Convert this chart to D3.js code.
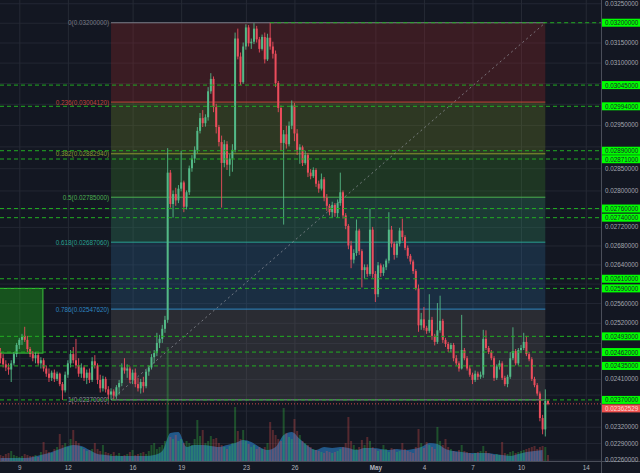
<!DOCTYPE html>
<html><head><meta charset="utf-8">
<script src="https://cdn.jsdelivr.net/npm/d3@7"></script>
<style>
html,body{margin:0;padding:0;background:#131722;}
svg{display:block;}
</style></head><body>
<svg id="chart" width="640" height="473"></svg>
<script>
// ---------- DATA (prices in units of 1e-5) ----------
const UNIT = 1e-5;
const firstCandle = Date.UTC(2018, 3, 7, 20);   // 4h candles
const candleHours = 4;

const openP = [
2462,2450,2438,2432,2428,2440,2458,2476,2486,2494,
2486,2468,2458,2450,2456,2440,2446,2430,2420,2412,
2422,2410,2420,2400,2388,2418,2440,2458,2446,2436,
2420,2432,2412,2422,2408,2444,2436,2408,2392,2410,
2390,2380,2386,2378,2394,2402,2432,2426,2430,2408,
2422,2400,2392,2404,2396,2424,2432,2452,2460,2480,
2488,2508,2526,2840,2770,2792,2778,2804,2818,2764,
2796,2850,2872,2892,2936,2966,2954,2968,3030,3060,
2992,2945,2910,2862,2905,2858,2872,2892,3160,3115,
3052,3140,3188,3148,3152,3185,3158,3134,3164,3108,
3162,3140,3122,3050,2990,2908,2928,2905,2948,2996,
2930,2892,2898,2862,2880,2840,2832,2846,2815,2804,
2825,2784,2766,2752,2768,2750,2772,2796,2745,2722,
2680,2650,2664,2712,2668,2628,2634,2620,2714,2620,
2578,2638,2622,2634,2648,2714,2684,2660,2684,2712,
2698,2675,2658,2646,2626,2590,2515,2527,2510,2504,
2526,2494,2482,2505,2524,2486,2478,2468,2476,2450,
2440,2430,2466,2450,2430,2418,2408,2420,2414,2418,
2488,2470,2462,2450,2412,2434,2440,2412,2400,2414,
2450,2464,2440,2466,2470,2482,2458,2448,2410,2398,
2382,2336,2315,2368];
const highP = [
2470,2458,2446,2440,2446,2462,2480,2490,2498,2512,
2494,2472,2464,2462,2460,2452,2450,2436,2430,2426,
2428,2424,2422,2404,2424,2446,2466,2472,2488,2450,
2440,2436,2428,2430,2452,2456,2440,2418,2416,2414,
2396,2392,2390,2398,2408,2440,2450,2438,2434,2428,
2430,2412,2410,2414,2428,2436,2458,2466,2500,2496,
2516,2534,2896,2846,2800,2806,2812,2890,2822,2800,
2856,2880,2900,2945,2978,2985,2975,3040,3074,3066,
3000,2950,2925,2915,2912,2882,2905,3175,3185,3125,
3150,3196,3194,3160,3199,3192,3164,3170,3175,3172,
3200,3152,3130,3055,2996,2938,2948,2958,3008,3002,
2940,2905,2902,2890,2885,2848,2852,2850,2822,2838,
2830,2792,2770,2775,2772,2780,2840,2800,2750,2726,
2690,2672,2736,2716,2672,2640,2640,2760,2720,2626,
2645,2642,2640,2652,2752,2722,2688,2690,2718,2738,
2702,2680,2662,2650,2630,2598,2540,2552,2514,2578,
2532,2498,2560,2575,2528,2490,2482,2480,2480,2456,
2444,2536,2470,2454,2436,2422,2426,2424,2424,2506,
2505,2474,2466,2454,2438,2446,2444,2416,2418,2462,
2511,2468,2470,2476,2500,2494,2462,2452,2414,2402,
2386,2342,2390,2370];
const lowP = [
2440,2432,2425,2418,2404,2436,2452,2468,2476,2482,
2462,2452,2444,2440,2436,2430,2424,2414,2404,2406,
2404,2406,2396,2370,2384,2412,2432,2440,2430,2414,
2412,2406,2400,2402,2404,2430,2400,2384,2386,2384,
2372,2370,2370,2372,2380,2396,2420,2412,2402,2400,
2394,2386,2382,2384,2392,2416,2428,2440,2454,2470,
2480,2500,2520,2762,2740,2766,2772,2798,2752,2758,
2790,2842,2862,2884,2930,2945,2946,2960,3024,2980,
2930,2900,2762,2852,2846,2832,2842,2886,3108,3045,
3048,3132,3140,3134,3146,3150,3125,3130,3098,3104,
3132,3110,3040,2980,2890,2725,2895,2900,2940,2912,
2880,2860,2855,2858,2830,2825,2828,2808,2795,2800,
2776,2755,2745,2740,2742,2740,2766,2738,2715,2672,
2632,2642,2658,2660,2592,2610,2614,2616,2612,2562,
2572,2614,2616,2628,2642,2676,2650,2654,2678,2690,
2670,2652,2640,2620,2586,2502,2506,2505,2498,2500,
2486,2475,2478,2500,2480,2472,2462,2462,2444,2436,
2424,2428,2446,2426,2414,2400,2404,2408,2410,2412,
2466,2458,2446,2406,2408,2428,2408,2396,2394,2410,
2446,2436,2436,2460,2466,2454,2444,2406,2394,2378,
2330,2306,2302,2360];
const closeP = [
2450,2438,2432,2428,2440,2458,2476,2486,2494,2486,
2468,2458,2450,2456,2440,2446,2430,2420,2412,2422,
2410,2420,2400,2388,2418,2440,2458,2446,2436,2420,
2432,2412,2422,2408,2444,2436,2408,2392,2410,2390,
2380,2386,2378,2394,2402,2432,2426,2430,2408,2422,
2400,2392,2404,2396,2424,2432,2452,2460,2480,2488,
2508,2526,2840,2770,2792,2778,2804,2818,2764,2796,
2850,2872,2892,2936,2966,2954,2968,3030,3060,2992,
2945,2910,2862,2905,2858,2872,2892,3160,3115,3052,
3140,3188,3148,3152,3185,3158,3134,3164,3108,3162,
3140,3122,3050,2990,2908,2928,2905,2948,2996,2930,
2892,2898,2862,2880,2840,2832,2846,2815,2804,2825,
2784,2766,2752,2768,2750,2772,2796,2745,2722,2680,
2650,2664,2712,2668,2628,2634,2620,2714,2620,2578,
2638,2622,2634,2648,2714,2684,2660,2684,2712,2698,
2675,2658,2646,2626,2590,2515,2527,2510,2504,2526,
2494,2482,2505,2524,2486,2478,2468,2476,2450,2440,
2430,2466,2450,2430,2418,2408,2420,2414,2418,2488,
2470,2462,2450,2412,2434,2440,2412,2400,2414,2450,
2464,2440,2466,2470,2482,2458,2448,2410,2398,2382,
2336,2315,2368,2362.529];
const volume = [
6,5,7,8,10,6,5,4,5,7,
6,5,5,6,4,9,19,11,9,8,
12,14,27,16,18,14,22,31,20,18,
14,12,10,11,12,18,12,10,16,9,
8,7,9,6,8,5,6,7,9,11,
6,7,8,9,7,10,16,18,12,14,
16,20,114,24,22,26,20,22,18,20,
18,16,22,41,25,31,18,20,25,22,
23,18,16,14,12,15,18,54,30,22,
31,20,17,14,16,12,14,12,14,18,
39,31,26,22,20,53,28,24,22,42,
30,26,20,18,16,14,12,11,10,9,
8,10,9,8,9,10,12,14,18,44,
20,16,12,14,21,16,24,20,14,12,
10,11,16,12,9,13,12,9,10,18,
12,10,9,8,14,32,18,13,19,16,
14,12,34,20,16,22,14,12,10,9,
11,16,10,9,8,7,8,9,10,15,
10,8,7,6,7,6,19,8,7,9,
10,8,9,10,11,12,13,14,15,12,
14,15,14,6];
// volume moving average, read every 3rd candle
const volumeMA = [
3,3,3,3,4,6,8,11,14,16,
15,11,7,6,5,5,5,5,5,6,
10,28,29,14,16,16,15,14,16,18,
21,19,14,11,14,26,29,22,15,11,
14,13,14,13,11,13,13,12,11,12,
11,12,14,18,17,12,10,9,8,8,
8,7,6,5,7,9,10,11];

const priceTicks = [0.0325,0.0320,0.0315,0.0310,0.0305,0.0300,0.0295,0.0290,0.0285,0.0280,
  0.0276,0.0272,0.0268,0.0264,0.0260,0.0256,0.0252,0.0248,0.0245,0.0241,0.0238,0.0235,0.0232,0.0229,0.0226];
const dateTicks = [[3,9],[3,12],[3,16],[3,19],[3,23],[3,26],[4,1],[4,4],[4,7],[4,10],[4,14]];
const levels = [0.032,0.03045,0.02994,0.0289,0.02871,0.0276,0.0274,0.0261,0.0259,0.02493,0.02462,0.02435,0.0237];
const topLevelFrom = Date.UTC(2018,3,24,12);
const lastPrice = 0.02362529;
const fibRatios = [0,0.236,0.382,0.5,0.618,0.786,1];
const fibHigh = 0.032, fibLow = 0.0237;
const fibFrom = Date.UTC(2018,3,14,16), fibTo = Date.UTC(2018,4,11,12);
const boxTop = 0.0259, boxBottom = 0.0246, boxTo = Date.UTC(2018,3,10,11);

// ---------- SCALES ----------
const PW = 601, PH = 461;
const svg = d3.select("#chart");
const x = d3.scaleUtc().domain([new Date(Date.UTC(2018,3,7,19,22)), new Date(Date.UTC(2018,4,14,21,7))]).range([0, 600]);
const y = d3.scaleLog().domain([0.022575, 0.032584]).range([PH, 0]);
const yV = d3.scaleLinear().domain([0, d3.max(volume)]).range([PH, 347]);
const FONT = "'Liberation Sans', Arial, sans-serif";
const FS = 6.3;

const candles = openP.map((o, i) => ({
  t: new Date(firstCandle + i * candleHours * 3600e3),
  o: o * UNIT, h: highP[i] * UNIT, l: lowP[i] * UNIT, c: closeP[i] * UNIT, v: volume[i]
}));

svg.append("rect").attr("width", 640).attr("height", 473).attr("fill", "#131722");
svg.append("defs").append("clipPath").attr("id", "plot").append("rect").attr("width", PW).attr("height", PH);
const plot = svg.append("g").attr("clip-path", "url(#plot)");

// grid
plot.append("g").attr("transform", `translate(${PW},0)`)
  .call(d3.axisLeft(y).tickValues(priceTicks).tickSize(PW).tickFormat(""))
  .call(g => g.select(".domain").remove())
  .selectAll("line").attr("stroke", "#232733");
const dates = dateTicks.map(d => new Date(Date.UTC(2018, d[0], d[1])));
plot.append("g").attr("transform", `translate(0,${PH})`)
  .call(d3.axisBottom(x).tickValues(dates).tickSize(-PH).tickFormat(""))
  .call(g => g.select(".domain").remove())
  .selectAll("line").attr("stroke", "#262a35");

// fib retracement
const fibPrices = fibRatios.map(r => fibHigh - r * (fibHigh - fibLow));
const zoneFill = ["#952829", "#6d8529", "#377e29", "#318c65", "#2a648d", "#605d5e"];
const lineCol = ["#787b86", "#c0433a", "#8a9a30", "#4caf50", "#2aa191", "#2e86c1", "#8f929b"];
const fx0 = x(new Date(fibFrom)), fx1 = x(new Date(fibTo));
const fib = plot.append("g");
fib.selectAll("rect").data(d3.range(fibPrices.length - 1)).join("rect")
  .attr("x", fx0).attr("width", fx1 - fx0)
  .attr("y", k => y(fibPrices[k])).attr("height", k => y(fibPrices[k + 1]) - y(fibPrices[k]))
  .attr("fill", k => zoneFill[k]).attr("fill-opacity", 0.3);
fib.selectAll("line").data(fibPrices).join("line")
  .attr("x1", fx0).attr("x2", fx1).attr("y1", p => y(p)).attr("y2", p => y(p))
  .attr("stroke", (p, k) => lineCol[k]).attr("stroke-width", 1);
fib.selectAll("text").data(fibPrices).join("text")
  .attr("x", fx0 - 2).attr("y", p => y(p)).attr("text-anchor", "end").attr("dominant-baseline", "central")
  .attr("font-family", FONT).attr("font-size", FS).attr("fill", (p, k) => lineCol[k])
  .text((p, k) => `${fibRatios[k]}(${p.toFixed(8)})`);
// diagonal
plot.append("line").attr("x1", fx0).attr("y1", y(fibLow)).attr("x2", fx1).attr("y2", y(fibHigh))
  .attr("stroke", "#9598a1").attr("stroke-dasharray", "2,3").attr("stroke-opacity", 0.7);

// left green box
plot.append("rect").attr("x", -2).attr("y", y(boxTop)).attr("width", x(new Date(boxTo)) + 2)
  .attr("height", y(boxBottom) - y(boxTop))
  .attr("fill", "#1d9d1a").attr("fill-opacity", 0.45).attr("stroke", "#3cc43c").attr("stroke-width", 1);

// volume
const maData = volumeMA.map((v, k) => ({ t: candles[k * 3].t, v }));
plot.append("path").datum(maData)
  .attr("d", d3.area().x(d => x(d.t)).y0(PH).y1(d => yV(d.v)).curve(d3.curveMonotoneX))
  .attr("fill", "#2a77b9").attr("fill-opacity", 0.68);
plot.append("g").selectAll("rect").data(candles).join("rect")
  .attr("x", d => x(d.t) - 1).attr("width", 2)
  .attr("y", d => yV(d.v)).attr("height", d => PH - yV(d.v))
  .attr("fill", d => d.c >= d.o ? "#38d547" : "#ef5350").attr("fill-opacity", 0.3);

// candles
const UP = "#53b987", DN = "#eb4d5c";
const cg = plot.append("g");
cg.selectAll("line").data(candles).join("line")
  .attr("x1", d => x(d.t)).attr("x2", d => x(d.t))
  .attr("y1", d => y(d.h)).attr("y2", d => y(d.l))
  .attr("stroke", d => d.c >= d.o ? UP : DN).attr("stroke-width", 0.9);
cg.selectAll("rect").data(candles).join("rect")
  .attr("x", d => x(d.t) - 1).attr("width", 2)
  .attr("y", d => y(Math.max(d.o, d.c)))
  .attr("height", d => Math.max(1, Math.abs(y(d.o) - y(d.c))))
  .attr("fill", d => d.c >= d.o ? UP : DN);

// horizontal levels
plot.append("g").selectAll("line").data(levels).join("line")
  .attr("x1", p => p === 0.032 ? x(new Date(topLevelFrom)) : 0).attr("x2", PW)
  .attr("y1", p => y(p)).attr("y2", p => y(p))
  .attr("stroke", "#22ad22").attr("stroke-dasharray", "4,3").attr("stroke-width", 1);
plot.append("line").attr("x1", 0).attr("x2", PW).attr("y1", y(lastPrice)).attr("y2", y(lastPrice))
  .attr("stroke", "#ef5350").attr("stroke-dasharray", "1,2").attr("stroke-opacity", 0.85);

// axes lines
svg.append("line").attr("x1", PW + 0.5).attr("x2", PW + 0.5).attr("y1", 0).attr("y2", 473).attr("stroke", "#4a4e59");
svg.append("line").attr("x1", 0).attr("x2", 640).attr("y1", PH + 0.5).attr("y2", PH + 0.5).attr("stroke", "#4a4e59");

// tag positions (level tags + current price tag), shifted down when they collide
const fmt = d3.format(".8f");
let prevBottom = -100;
const tagData = levels.slice().sort((a, b) => b - a).map(p => ({ p, bg: "#00ff00", fg: "#1e222d" }));
tagData.push({ p: lastPrice, bg: "#ef5350", fg: "#ffd6d6" });
tagData.forEach(d => {
  let cy = y(d.p);
  if (cy - 4 < prevBottom + 0.5) cy = prevBottom + 0.5 + 4;
  prevBottom = cy + 4;
  d.cy = cy;
});

// price axis labels (the ones hidden behind a tag are not drawn)
const visibleTicks = priceTicks.filter(t => d3.min(tagData, d => Math.abs(y(t) - d.cy)) >= 7.5);
svg.append("g").attr("transform", `translate(${PW},0)`)
  .call(d3.axisRight(y).tickValues(visibleTicks).tickFormat(fmt).tickSize(0).tickPadding(4))
  .call(g => g.select(".domain").remove())
  .call(g => g.selectAll("text").attr("fill", "#a3a6af").attr("font-family", FONT).attr("font-size", FS));

// time axis labels
svg.append("g").attr("transform", `translate(0,${PH})`)
  .call(d3.axisBottom(x).tickValues(dates).tickSize(0).tickPadding(4.5)
    .tickFormat(d => d.getUTCDate() === 1 ? "May" : d.getUTCDate()))
  .call(g => g.select(".domain").remove())
  .call(g => g.selectAll("text").attr("fill", "#b2b5be").attr("font-family", FONT).attr("font-size", FS)
    .attr("font-weight", d => d.getUTCDate() === 1 ? "bold" : "normal"));

// level tags
const tags = svg.append("g");
tagData.forEach(d => {
  tags.append("rect").attr("x", PW + 1).attr("y", d.cy - 4).attr("width", 640 - PW).attr("height", 8).attr("fill", d.bg);
  tags.append("text").attr("x", PW + 4).attr("y", d.cy).attr("dominant-baseline", "central")
    .attr("font-family", FONT).attr("font-size", FS).attr("fill", d.fg).text(fmt(d.p));
});
</script>
</body></html>
